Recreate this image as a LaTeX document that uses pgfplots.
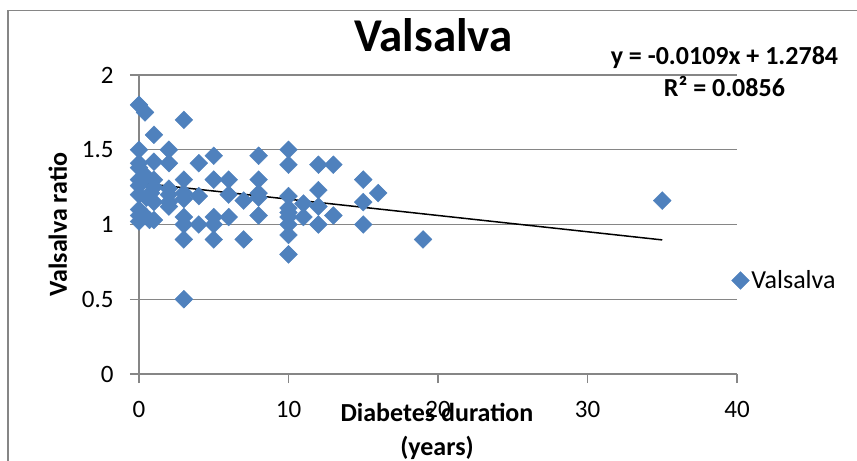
\documentclass[border=0pt]{standalone}
\usepackage{pgfplots}
\pgfplotsset{compat=1.18}
\usepackage{fontspec}
\setmainfont{Carlito}
\definecolor{xlblue}{HTML}{4F81BD}
\definecolor{xlgray}{HTML}{868686}

\begin{document}
\begin{tikzpicture}
\useasboundingbox (0,0) rectangle (857bp,461bp);
\draw[xlgray, line width=1.2bp] (8bp,0) -- (8bp,450.5bp) -- (857bp,450.5bp);
\begin{axis}[
  at={(139bp,87bp)}, anchor=south west,
  scale only axis, width=598bp, height=299bp,
  xmin=0, xmax=40, ymin=0, ymax=2,
  xtick={0,10,20,30,40}, ytick={0,0.5,1,1.5,2},
  axis lines*=left,
  axis line style={xlgray, line width=1.2bp},
  ymajorgrids, grid style={xlgray, line width=1.2bp},
  tick align=outside, major tick length=9bp,
  tick style={xlgray, line width=1.2bp},
  /pgf/number format/assume math mode=true,
  ticklabel style={font=\fontsize{25bp}{30bp}\selectfont, text=black},
  xticklabel style={yshift=-15bp},
  yticklabel style={xshift=-13bp},
  clip=false,
  title={Valsalva},
  title style={font=\bfseries\fontsize{47bp}{56bp}\selectfont, at={(0.4925,1.058)}, anchor=base, inner sep=0pt},
  xlabel={Diabetes duration\\(years)},
  xlabel style={align=center, font=\bfseries\fontsize{26bp}{34bp}\selectfont, at={(0.4983,-0.097)}, anchor=north, inner sep=0pt},
  ylabel={Valsalva ratio},
  ylabel style={font=\bfseries\fontsize{26bp}{31bp}\selectfont, at={(-0.1204,0.5)}, anchor=base, inner sep=0pt},
  legend style={at={(0.9906,0.3127)}, anchor=west, draw=none, fill=none, inner sep=0pt,
    font=\fontsize{26bp}{31bp}\selectfont},
  legend image code/.code={\draw[#1] plot coordinates {(0bp,0bp)};},
]
\addplot[only marks, mark=square*, mark size=6.3bp,
  mark options={rotate=45, fill=xlblue, draw=xlblue}] table {
x y
0 1.80
0.4 1.75
3 1.70
1 1.60
0 1.50
2 1.50
0 1.41
1 1.42
2 1.41
4 1.41
5 1.46
8 1.46
10 1.50
10 1.40
12 1.40
13 1.40
0 1.38
0.5 1.32
0 1.30
1 1.30
3 1.30
5 1.30
6 1.30
8 1.30
15 1.30
0 1.26
1 1.25
2 1.24
12 1.23
0 1.20
0.8 1.21
2 1.20
3 1.21
4 1.19
6 1.20
8 1.21
10 1.19
16 1.21
2 1.15
3 1.17
7 1.16
8 1.18
11 1.14
12 1.12
15 1.15
35 1.16
0 1.10
2 1.12
10 1.11
0 1.06
0.4 1.06
0.7 1.03
1 1.03
3 1.05
5 1.05
6 1.05
8 1.06
10 1.05
11 1.05
13 1.06
0 1.02
3 1.00
4 1.00
5 1.00
10 1.00
12 1.00
15 1.00
10 1.08
3 0.90
5 0.90
7 0.90
10 0.93
19 0.90
10 0.80
3 0.50
1 1.15
0.5 1.18
};
\addlegendentry{Valsalva}
\addplot[black, line width=1.5bp, no markers, forget plot] coordinates {(0,1.2784) (35,0.8969)};
\node[font=\bfseries\fontsize{26bp}{31bp}\selectfont, anchor=base, inner sep=0pt] at (axis description cs:0.979,1.0358) {y = -0.0109x + 1.2784};
\node[font=\bfseries\fontsize{26bp}{31bp}\selectfont, anchor=base, inner sep=0pt] at (axis description cs:0.979,0.9278) {R² = 0.0856};
\end{axis}
\end{tikzpicture}
\end{document}
